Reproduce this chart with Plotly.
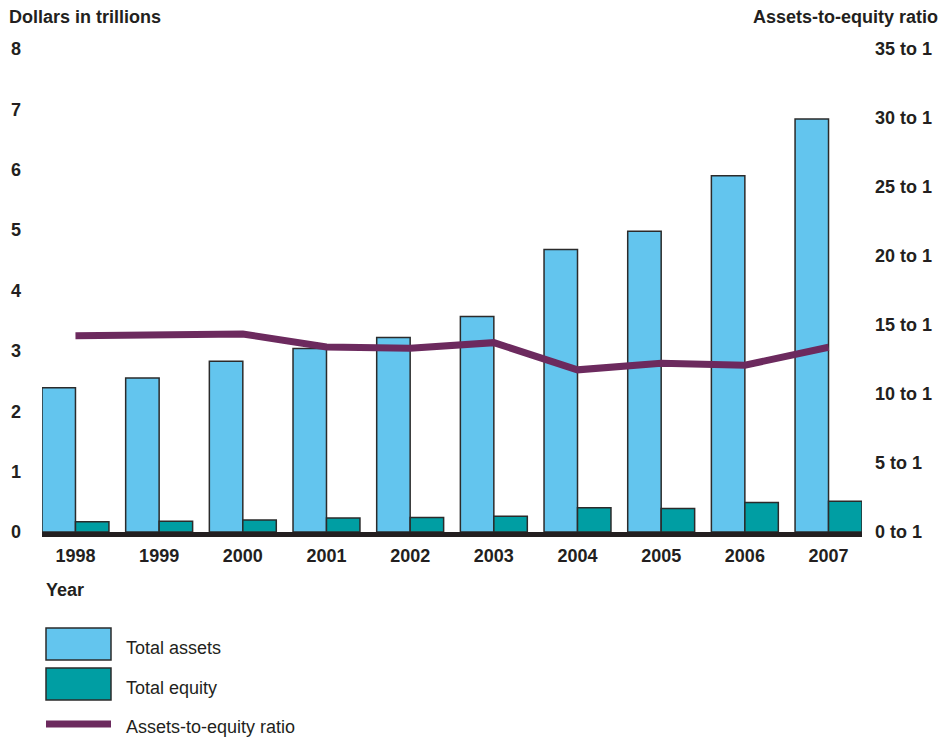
import plotly.graph_objects as go

years = ["1998", "1999", "2000", "2001", "2002", "2003", "2004", "2005", "2006", "2007"]
total_assets = [2.39, 2.55, 2.83, 3.04, 3.22, 3.57, 4.68, 4.98, 5.90, 6.84]
total_equity = [0.17, 0.18, 0.20, 0.23, 0.24, 0.26, 0.40, 0.39, 0.49, 0.51]
ratio = [14.23, 14.33, 14.35, 13.41, 13.32, 13.72, 11.75, 12.23, 12.09, 13.39]
left_ticks = [0, 1, 2, 3, 4, 5, 6, 7, 8]
right_ticks = [0, 5, 10, 15, 20, 25, 30, 35]
right_labels = [f"{v} to 1" for v in right_ticks]

W, H = 951, 739
ML, MR, MT, MB = 42, 89, 49, 207
PW, PH = W - ML - MR, H - MT - MB

C_ASSETS = "#63C5EE"
C_EQUITY = "#009EA3"
C_RATIO = "#6C2A5E"
C_TEXT = "#231F20"
C_OUT = "#2b2b2b"
FONT = "Liberation Sans, Arial, sans-serif"
FS = 18

fig = go.Figure()
fig.add_trace(go.Bar(x=years, y=total_assets, name="Total assets",
                     marker=dict(color=C_ASSETS, line=dict(color=C_OUT, width=1.5))))
fig.add_trace(go.Bar(x=years, y=total_equity, name="Total equity",
                     marker=dict(color=C_EQUITY, line=dict(color=C_OUT, width=1.5))))
fig.add_trace(go.Scatter(x=years, y=ratio, name="Assets-to-equity ratio", yaxis="y2",
                         mode="lines", line=dict(color=C_RATIO, width=7)))


def px(x):
    return (x - ML) / PW


def py(y):
    return (H - MB - y) / PH


shapes = []
annotations = []
# legend boxes
for (y0, y1, col) in [(628, 660, C_ASSETS), (668, 700, C_EQUITY)]:
    shapes.append(dict(type="rect", xref="paper", yref="paper",
                       x0=px(46), x1=px(111), y0=py(y1), y1=py(y0),
                       fillcolor=col, line=dict(color=C_OUT, width=1.5)))
shapes.append(dict(type="line", xref="paper", yref="paper",
                   x0=px(46), x1=px(111), y0=py(724), y1=py(724),
                   line=dict(color=C_RATIO, width=7)))
for (txt, yc) in [("Total assets", 648), ("Total equity", 688), ("Assets-to-equity ratio", 727)]:
    annotations.append(dict(text=txt, xref="paper", yref="paper", x=px(124), y=py(yc),
                            xanchor="left", yanchor="middle", showarrow=False,
                            font=dict(family=FONT, size=FS, color=C_TEXT)))
annotations.append(dict(text="<b>Year</b>", xref="paper", yref="paper", x=px(44), y=py(590),
                        xanchor="left", yanchor="middle", showarrow=False,
                        font=dict(family=FONT, size=FS, color=C_TEXT)))
annotations.append(dict(text="<b>Dollars in trillions</b>", xref="paper", yref="paper",
                        x=px(7), y=py(17), xanchor="left", yanchor="middle", showarrow=False,
                        font=dict(family=FONT, size=FS, color=C_TEXT)))
annotations.append(dict(text="<b>Assets-to-equity ratio</b>", xref="paper", yref="paper",
                        x=px(940), y=py(17), xanchor="right", yanchor="middle", showarrow=False,
                        font=dict(family=FONT, size=FS, color=C_TEXT)))

fig.update_layout(
    width=W, height=H,
    margin=dict(l=ML, r=MR, t=MT, b=MB),
    paper_bgcolor="white", plot_bgcolor="white",
    barmode="group", bargap=0.2, bargroupgap=0,
    showlegend=False,
    font=dict(family=FONT, color=C_TEXT),
    xaxis=dict(type="category", range=[-0.4, 9.4], showgrid=False,
               showline=True, linecolor=C_TEXT, linewidth=5,
               ticks="", ticklabelstandoff=3,
               tickfont=dict(family=FONT, size=FS, color=C_TEXT, weight="bold")),
    yaxis=dict(range=[0, 8], tickvals=left_ticks, showgrid=False, zeroline=False,
               showline=False, ticks="", ticklabelstandoff=20,
               tickfont=dict(family=FONT, size=FS, color=C_TEXT, weight="bold")),
    yaxis2=dict(range=[0, 35], tickvals=right_ticks, ticktext=right_labels,
                overlaying="y", side="right", showgrid=False, zeroline=False,
                showline=False, ticks="", ticklabelstandoff=12,
                tickfont=dict(family=FONT, size=FS, color=C_TEXT, weight="bold")),
    shapes=shapes,
    annotations=annotations,
)

fig.write_html("out.html", config={"displayModeBar": False},
               post_script="document.body.style.margin='0';document.body.style.padding='0';")
